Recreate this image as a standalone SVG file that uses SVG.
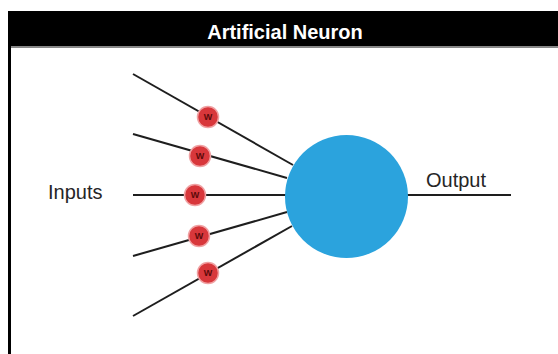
<svg xmlns="http://www.w3.org/2000/svg" width="558" height="354" viewBox="0 0 558 354">
<defs>
<style>
.lbl{font-family:"Liberation Sans",Arial,sans-serif;font-size:20px;fill:#262626}
.edge{stroke:#1e1e1e;stroke-width:2;fill:none}
.w circle{fill:#d8373b;stroke:#f0a0a2;stroke-width:1.5}
.w text{font-family:"Liberation Sans",Arial,sans-serif;font-size:9px;font-weight:bold;fill:#5a0a0a;text-anchor:middle}
</style>
</defs>
<rect x="0" y="0" width="558" height="354" fill="#ffffff"/>
<g id="frame">
<rect x="8" y="11" width="550" height="35" fill="#000"/>
<rect x="8" y="46" width="550" height="2" fill="#888"/>
<rect x="8" y="11" width="3" height="343" fill="#000"/>
<text x="285" y="38.5" text-anchor="middle" style="font-family:'Liberation Sans',Arial,sans-serif;font-size:20px;font-weight:bold;fill:#fff">Artificial Neuron</text>
</g>
<g id="connectors">
<line class="edge" x1="133" y1="74" x2="293" y2="165"/>
<line class="edge" x1="133" y1="134" x2="287" y2="178"/>
<line class="edge" x1="133" y1="195" x2="290" y2="195"/>
<line class="edge" x1="133" y1="256" x2="287" y2="212"/>
<line class="edge" x1="133" y1="316" x2="292" y2="226"/>
<line class="edge" x1="405" y1="195" x2="511" y2="195"/>
</g>
<g id="neuron">
<circle cx="346.5" cy="196.5" r="61.5" fill="#2ba3dd"/>
</g>
<g id="w1" class="w"><circle cx="208" cy="117" r="10.5"/><text x="208" y="120">W</text></g>
<g id="w2" class="w"><circle cx="200" cy="156" r="10.5"/><text x="200" y="159">W</text></g>
<g id="w3" class="w"><circle cx="195" cy="195" r="10.5"/><text x="195" y="198">W</text></g>
<g id="w4" class="w"><circle cx="199" cy="236" r="10.5"/><text x="199" y="239">W</text></g>
<g id="w5" class="w"><circle cx="208" cy="273" r="10.5"/><text x="208" y="276">W</text></g>
<g id="inputs"><text class="lbl" x="48" y="199">Inputs</text></g>
<g id="output"><text class="lbl" x="426" y="187">Output</text></g>
</svg>
